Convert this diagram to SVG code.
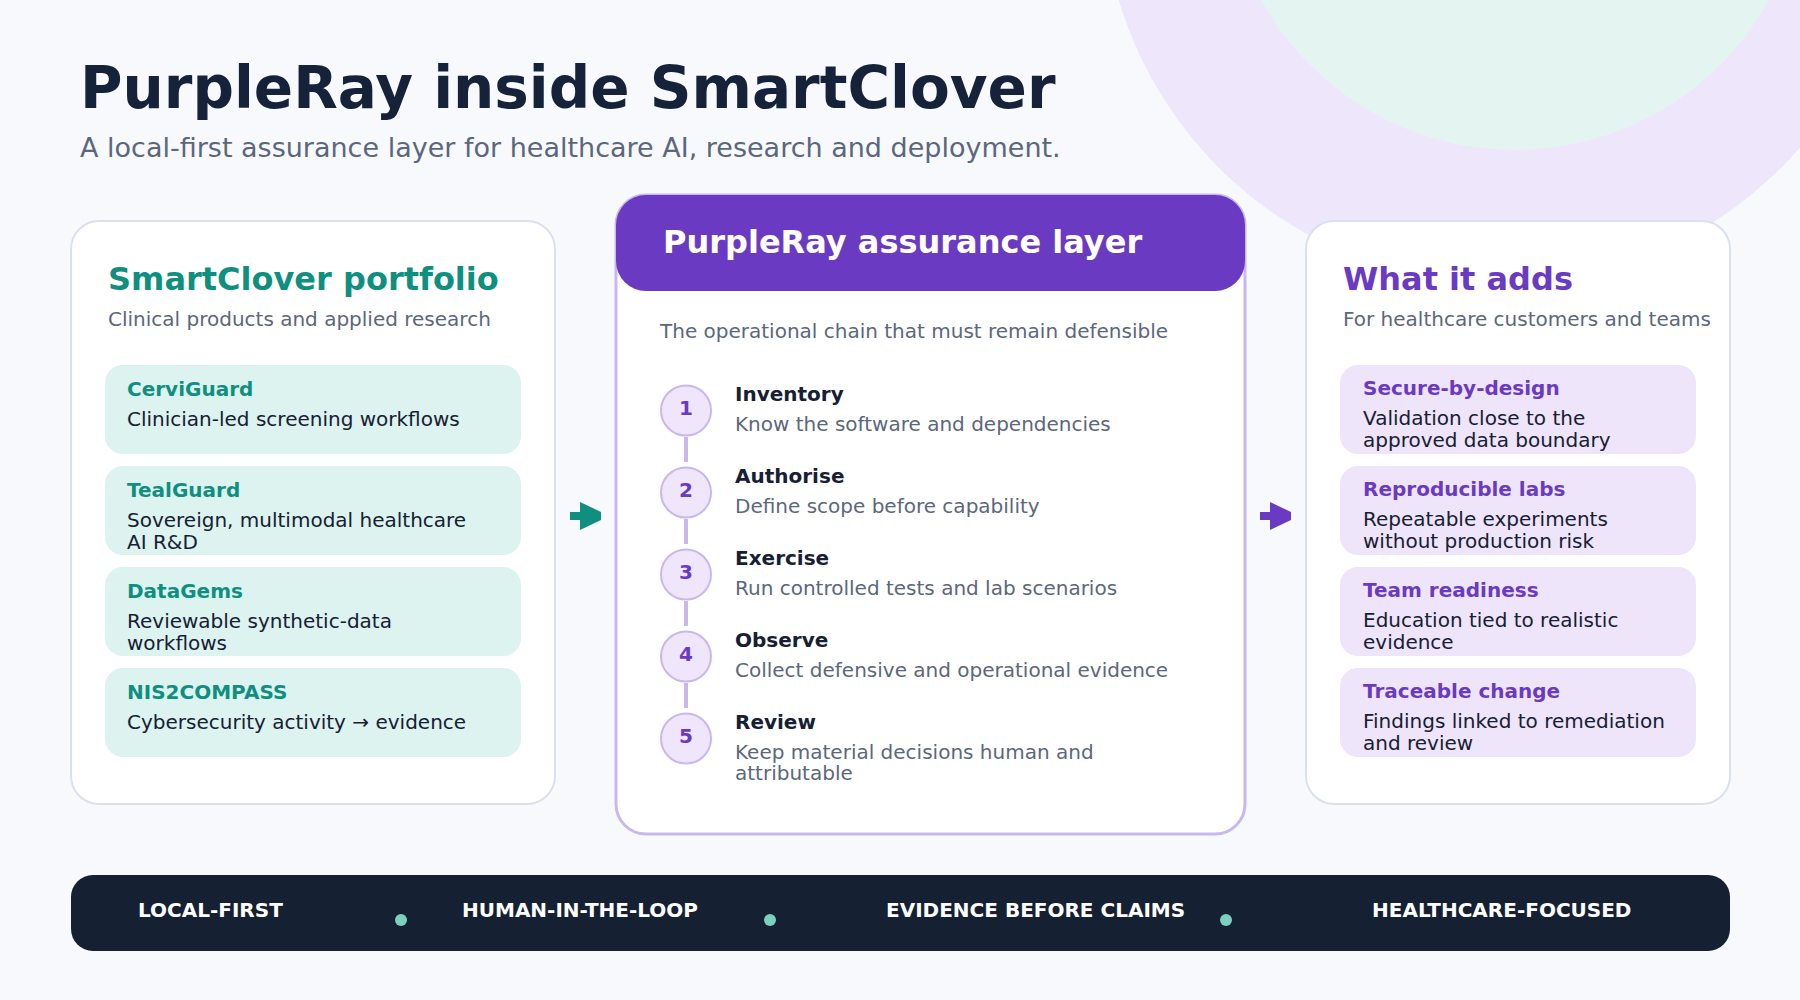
<svg xmlns="http://www.w3.org/2000/svg" width="1800" height="1000" viewBox="0 0 1800 1000">
  <defs>
    <style>
      text { font-family: "DejaVu Sans", "Liberation Sans", sans-serif; }
      .h1 { font-size: 58px; font-weight: 700; fill: #16213a; }
      .lead { font-size: 27px; fill: #5b677d; }
      .card { fill: #ffffff; stroke: #dbe1ec; stroke-width: 2; }
      .ctitle { font-size: 32px; font-weight: 700; }
      .csub { font-size: 20px; fill: #5b677d; }
      .teal { fill: #0f8f80; }
      .purple { fill: #6b3ac2; }
      .tealbox { fill: #dcf3ef; }
      .purplebox { fill: #eee5fb; }
      .ititle { font-size: 20px; font-weight: 700; }
      .idesc { font-size: 20px; fill: #172033; }
      .stitle { font-size: 20px; font-weight: 700; fill: #172033; }
      .sdesc { font-size: 20px; fill: #5b677d; }
      .snum { font-size: 20px; font-weight: 700; fill: #6b3ac2; text-anchor: middle; }
      .scircle { fill: #efe6fb; stroke: #c9b8ee; stroke-width: 2; }
      .link { stroke: #c9b8ee; stroke-width: 4; }
      .band { font-size: 20px; font-weight: 700; fill: #ffffff; }
      .dot { fill: #7ccfc1; }
    </style>
    <g id="arrow">
      <rect x="0" y="-4" width="31" height="8" fill="currentColor"/>
      <polygon points="10,-14 31,-4 31,4 10,14" fill="currentColor"/>
    </g>
  </defs>

  <rect x="0" y="0" width="1800" height="1000" fill="#f7f9fd"/>
  <circle cx="1500" cy="-114" r="398" fill="#eee6fb"/>
  <circle cx="1515" cy="-140" r="290" fill="#e4f4f0"/>

  <g id="header">
    <text class="h1" x="80" y="108">PurpleRay inside SmartClover</text>
    <text class="lead" x="80" y="157">A local-first assurance layer for healthcare AI, research and deployment.</text>
  </g>

  <g id="portfolio">
    <rect class="card" x="71" y="221" width="484" height="583" rx="28"/>
    <text class="ctitle teal" x="108" y="290">SmartClover portfolio</text>
    <text class="csub" x="108" y="326">Clinical products and applied research</text>
  </g>
  <g id="cerviguard">
    <rect class="tealbox" x="105" y="365" width="416" height="89" rx="18"/>
    <text class="ititle teal" x="127" y="396">CerviGuard</text>
    <text class="idesc" x="127" y="426">Clinician-led screening workflows</text>
  </g>
  <g id="tealguard">
    <rect class="tealbox" x="105" y="466" width="416" height="89" rx="18"/>
    <text class="ititle teal" x="127" y="497">TealGuard</text>
    <text class="idesc" x="127" y="527">Sovereign, multimodal healthcare</text>
    <text class="idesc" x="127" y="549">AI R&amp;D</text>
  </g>
  <g id="datagems">
    <rect class="tealbox" x="105" y="567" width="416" height="89" rx="18"/>
    <text class="ititle teal" x="127" y="598">DataGems</text>
    <text class="idesc" x="127" y="628">Reviewable synthetic-data</text>
    <text class="idesc" x="127" y="650">workflows</text>
  </g>
  <g id="nis2compass">
    <rect class="tealbox" x="105" y="668" width="416" height="89" rx="18"/>
    <text class="ititle teal" x="127" y="699">NIS2COMPASS</text>
    <text class="idesc" x="127" y="729">Cybersecurity activity → evidence</text>
  </g>

  <g id="assurance-layer">
    <rect x="616" y="195" width="629" height="639" rx="30" fill="#ffffff" stroke="#c9b8ee" stroke-width="3"/>
    <rect x="616" y="195" width="629" height="96" rx="30" fill="#6b3ac2"/>
    <text class="ctitle" x="663" y="253" fill="#ffffff">PurpleRay assurance layer</text>
    <text class="csub" x="660" y="338">The operational chain that must remain defensible</text>
  </g>

  <g id="connectors">
    <use href="#arrow" x="570" y="516" color="#0f8f80"/>
    <use href="#arrow" x="1260" y="516" color="#6b3ac2"/>
    <line class="link" x1="686" y1="437" x2="686" y2="462"/>
    <line class="link" x1="686" y1="519" x2="686" y2="544"/>
    <line class="link" x1="686" y1="601" x2="686" y2="626"/>
    <line class="link" x1="686" y1="683" x2="686" y2="708"/>
  </g>

  <g id="step-1">
    <circle class="scircle" cx="686" cy="410.5" r="25"/>
    <text class="snum" x="686" y="415">1</text>
    <text class="stitle" x="735" y="400.5">Inventory</text>
    <text class="sdesc" x="735" y="430.5">Know the software and dependencies</text>
  </g>
  <g id="step-2">
    <circle class="scircle" cx="686" cy="492.5" r="25"/>
    <text class="snum" x="686" y="497">2</text>
    <text class="stitle" x="735" y="482.5">Authorise</text>
    <text class="sdesc" x="735" y="512.5">Define scope before capability</text>
  </g>
  <g id="step-3">
    <circle class="scircle" cx="686" cy="574.5" r="25"/>
    <text class="snum" x="686" y="579">3</text>
    <text class="stitle" x="735" y="564.5">Exercise</text>
    <text class="sdesc" x="735" y="594.5">Run controlled tests and lab scenarios</text>
  </g>
  <g id="step-4">
    <circle class="scircle" cx="686" cy="656.5" r="25"/>
    <text class="snum" x="686" y="661">4</text>
    <text class="stitle" x="735" y="646.5">Observe</text>
    <text class="sdesc" x="735" y="676.5">Collect defensive and operational evidence</text>
  </g>
  <g id="step-5">
    <circle class="scircle" cx="686" cy="738.5" r="25"/>
    <text class="snum" x="686" y="743">5</text>
    <text class="stitle" x="735" y="728.5">Review</text>
    <text class="sdesc" x="735" y="758.5">Keep material decisions human and</text>
    <text class="sdesc" x="735" y="779.5">attributable</text>
  </g>

  <g id="what-it-adds">
    <rect class="card" x="1306" y="221" width="424" height="583" rx="28"/>
    <text class="ctitle purple" x="1343" y="290">What it adds</text>
    <text class="csub" x="1343" y="326">For healthcare customers and teams</text>
  </g>
  <g id="secure-by-design">
    <rect class="purplebox" x="1340" y="365" width="356" height="89" rx="18"/>
    <text class="ititle purple" x="1363" y="395">Secure-by-design</text>
    <text class="idesc" x="1363" y="424.5">Validation close to the</text>
    <text class="idesc" x="1363" y="446.5">approved data boundary</text>
  </g>
  <g id="reproducible-labs">
    <rect class="purplebox" x="1340" y="466" width="356" height="89" rx="18"/>
    <text class="ititle purple" x="1363" y="496">Reproducible labs</text>
    <text class="idesc" x="1363" y="525.5">Repeatable experiments</text>
    <text class="idesc" x="1363" y="547.5">without production risk</text>
  </g>
  <g id="team-readiness">
    <rect class="purplebox" x="1340" y="567" width="356" height="89" rx="18"/>
    <text class="ititle purple" x="1363" y="597">Team readiness</text>
    <text class="idesc" x="1363" y="626.5">Education tied to realistic</text>
    <text class="idesc" x="1363" y="648.5">evidence</text>
  </g>
  <g id="traceable-change">
    <rect class="purplebox" x="1340" y="668" width="356" height="89" rx="18"/>
    <text class="ititle purple" x="1363" y="698">Traceable change</text>
    <text class="idesc" x="1363" y="727.5">Findings linked to remediation</text>
    <text class="idesc" x="1363" y="749.5">and review</text>
  </g>

  <g id="principles">
    <rect x="71" y="875" width="1659" height="76" rx="22" fill="#162033"/>
    <text class="band" x="138" y="917">LOCAL-FIRST</text>
    <circle class="dot" cx="401" cy="920" r="6"/>
    <text class="band" x="462" y="917">HUMAN-IN-THE-LOOP</text>
    <circle class="dot" cx="770" cy="920" r="6"/>
    <text class="band" x="886" y="917">EVIDENCE BEFORE CLAIMS</text>
    <circle class="dot" cx="1226" cy="920" r="6"/>
    <text class="band" x="1372" y="917">HEALTHCARE-FOCUSED</text>
  </g>
</svg>
